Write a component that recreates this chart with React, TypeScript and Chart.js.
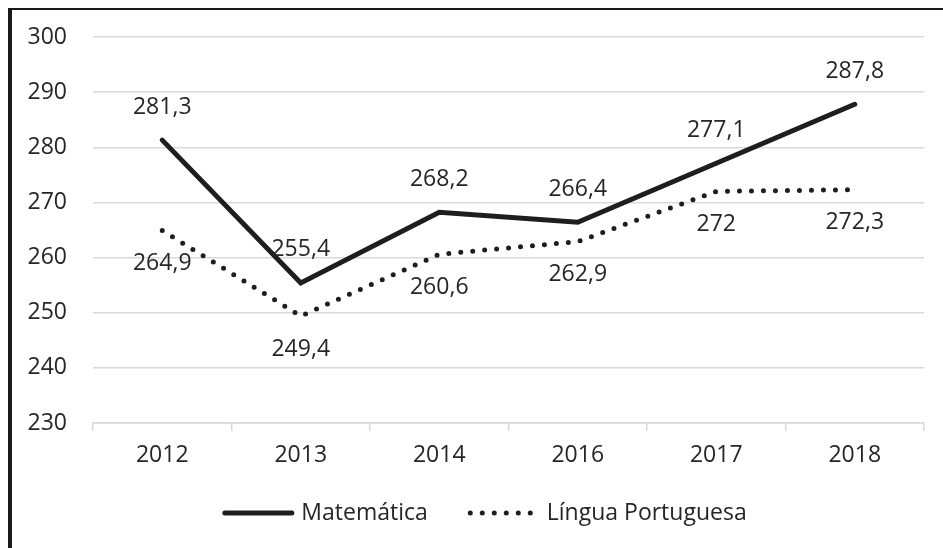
import React, { useEffect, useRef } from "react";
import { Chart, registerables } from "chart.js";

Chart.register(...registerables);

const categories = ["2012", "2013", "2014", "2016", "2017", "2018"];
const matematica = [281.3, 255.4, 268.2, 266.4, 277.1, 287.8];
const portugues = [264.9, 249.4, 260.6, 262.9, 272, 272.3];
const seriesNames = ["Matemática", "Língua Portuguesa"];
const labelSide = [-1, 1]; // -1 above, +1 below
const yMin = 230;
const yMax = 300;
const yStep = 10;

const FONT = "'Open Sans', sans-serif";
const FONT_SIZE = 23;
const TEXT = "#262626";
const LINE = "#1e1e1e";
const GRID = "#d9d9d9";

const fmt = (v: number) => String(v).replace(".", ",");

const dataLabelPlugin = {
  id: "valueLabels",
  afterDatasetsDraw(chart: any) {
    const ctx = chart.ctx;
    ctx.save();
    ctx.font = `${FONT_SIZE}px ${FONT}`;
    ctx.fillStyle = TEXT;
    ctx.textAlign = "center";
    ctx.textBaseline = "middle";
    chart.data.datasets.forEach((ds: any, di: number) => {
      const meta = chart.getDatasetMeta(di);
      meta.data.forEach((pt: any, i: number) => {
        ctx.fillText(fmt(ds.data[i]), pt.x, pt.y + labelSide[di] * 33);
      });
    });
    ctx.restore();
  },
};

const legendPlugin = {
  id: "customLegend",
  afterDraw(chart: any) {
    const ctx = chart.ctx;
    ctx.save();
    ctx.font = `${FONT_SIZE}px ${FONT}`;
    const lineLen = 72;
    const gapText = 7;
    const gapItems = 40;
    const widths = chart.data.datasets.map(
      (ds: any) => lineLen + gapText + ctx.measureText(ds.label).width
    );
    const total = widths.reduce((a: number, b: number) => a + b, 0) + gapItems * (widths.length - 1);
    const centerX = chart.width / 2 + 7;
    const y = 503;
    let x = centerX - total / 2;
    chart.data.datasets.forEach((ds: any, i: number) => {
      ctx.beginPath();
      ctx.strokeStyle = ds.borderColor;
      ctx.lineWidth = ds.borderWidth;
      ctx.lineCap = "round";
      ctx.setLineDash(ds.borderDash || []);
      ctx.moveTo(x + ds.borderWidth / 2, y);
      ctx.lineTo(x + lineLen - ds.borderWidth / 2, y);
      ctx.stroke();
      ctx.setLineDash([]);
      ctx.fillStyle = TEXT;
      ctx.textAlign = "left";
      ctx.textBaseline = "middle";
      ctx.fillText(ds.label, x + lineLen + gapText, y);
      x += widths[i] + gapItems;
    });
    ctx.restore();
  },
};

export default function App() {
  const ref = useRef<HTMLCanvasElement | null>(null);

  useEffect(() => {
    if (!ref.current) return;
    const chart = new Chart(ref.current, {
      type: "line",
      data: {
        labels: categories,
        datasets: [
          {
            label: seriesNames[0],
            data: matematica,
            borderColor: LINE,
            borderWidth: 5,
            borderCapStyle: "round",
            borderJoinStyle: "miter",
            pointRadius: 0,
            fill: false,
            tension: 0,
          },
          {
            label: seriesNames[1],
            data: portugues,
            borderColor: LINE,
            borderWidth: 5,
            borderDash: [0, 12],
            borderCapStyle: "round",
            pointRadius: 0,
            fill: false,
            tension: 0,
          },
        ],
      },
      options: {
        responsive: false,
        animation: false,
        layout: { padding: { top: 27, right: 19, bottom: 55, left: 0 } },
        plugins: {
          legend: { display: false },
          tooltip: { enabled: false },
        },
        scales: {
          x: {
            offset: true,
            grid: {
              display: true,
              offset: true,
              drawOnChartArea: false,
              drawTicks: true,
              tickLength: 8,
              color: GRID,
              lineWidth: 1.5,
            },
            border: { display: true, color: GRID, width: 1.5 },
            ticks: {
              color: TEXT,
              font: { family: FONT, size: FONT_SIZE },
              padding: 11,
              maxRotation: 0,
            },
            afterFit: (s: any) => {
              s.height = 70;
            },
          },
          y: {
            min: yMin,
            max: yMax,
            grid: { color: GRID, lineWidth: 1.5, drawTicks: false },
            border: { display: false },
            ticks: {
              stepSize: yStep,
              color: TEXT,
              font: { family: FONT, size: FONT_SIZE },
              padding: 26,
            },
            afterFit: (s: any) => {
              s.width = 81;
              s.paddingTop = 0;
              s.paddingBottom = 0;
            },
          },
        },
      },
      plugins: [dataLabelPlugin, legendPlugin],
    });
    return () => chart.destroy();
  }, []);

  return (
    <div
      style={{
        position: "fixed",
        left: 8,
        top: 8,
        borderLeft: "4px solid #1a1a1a",
        borderTop: "2px solid #1a1a1a",
        background: "#fff",
        width: 931,
        height: 538,
      }}
    >
      <canvas ref={ref} width={931} height={538} style={{ display: "block", width: 931, height: 538 }} />
    </div>
  );
}
